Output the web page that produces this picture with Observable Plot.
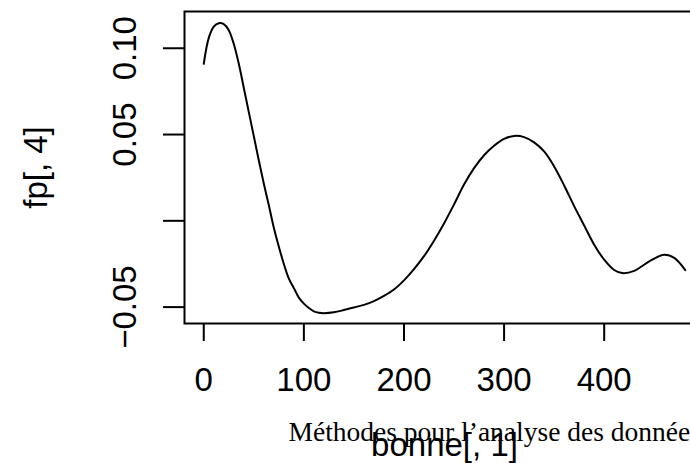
<!DOCTYPE html>
<html>
<head>
<meta charset="utf-8">
<script src="https://cdn.jsdelivr.net/npm/d3@7"></script>
<script src="https://cdn.jsdelivr.net/npm/@observablehq/plot@0.6"></script>
<style>
  html, body { margin: 0; padding: 0; background: #fff; overflow: hidden; }
  #chart { width: 690px; height: 463px; overflow: hidden; }
  #chart svg { max-width: none !important; }
  #chart svg [aria-label*="axis"] line,
  #chart svg [aria-label*="axis"] path { stroke-width: 2px; stroke: #000; }
</style>
</head>
<body>
<div id="chart"></div>
<script>
// bonne[, 1] values (x) and fp[, 4] values (y)
const bonne1 = [0, 5, 10, 15, 20, 25, 30, 35, 40, 45, 50, 55, 60, 65, 70, 75, 80, 85, 90, 95,
  100, 105, 110, 115, 120, 130, 140, 150, 160, 170, 180, 190, 200, 210, 220, 230, 240, 250,
  260, 270, 280, 290, 300, 310, 320, 330, 340, 350, 360, 370, 380, 390, 400, 410, 418, 430,
  445, 460, 470, 481];
const fp4 = [0.091, 0.106, 0.1125, 0.1145, 0.114, 0.1105, 0.1025, 0.091, 0.077, 0.063, 0.049,
  0.035, 0.0215, 0.009, -0.004, -0.015, -0.025, -0.0335, -0.039, -0.0445,
  -0.048, -0.0505, -0.0525, -0.0533, -0.0535, -0.053, -0.0517, -0.0502, -0.0487, -0.0465,
  -0.0435, -0.0398, -0.0345, -0.028, -0.0205, -0.0115, -0.0015, 0.0095,
  0.021, 0.0305, 0.038, 0.0435, 0.0475, 0.0492, 0.0485, 0.0455, 0.0402, 0.0315, 0.0205,
  0.0085, -0.0027, -0.0138, -0.0225, -0.0285, -0.0303, -0.029,
  -0.0235, -0.0197, -0.0215, -0.0286];

const xTicks = [0, 100, 200, 300, 400];
const yTicks = [-0.05, 0, 0.05, 0.10];
const yTickLabels = ["\u22120.05", "", "0.05", "0.10"];
const xLabel = "bonne[, 1]";
const yLabel = "fp[, 4]";
const caption = "Méthodes pour l\u2019analyse des données";

const data = bonne1.map((x, i) => ({x, y: fp4[i]}));
const yLab = yTicks.map((v, i) => ({v, t: yTickLabels[i]})).filter(d => d.t !== "");

const fs = 33;
const chart = Plot.plot({
  width: 710,
  height: 463,
  marginLeft: 184,
  marginRight: 6,
  marginTop: 11,
  marginBottom: 140,
  style: {fontFamily: "'Liberation Sans', Arial, Helvetica, sans-serif", fontSize: fs + "px", color: "#000", background: "#fff"},
  x: {domain: [-19.24, 500.2], ticks: xTicks, tickSize: 18, tickPadding: 26, tickFormat: d => String(d), label: null},
  y: {domain: [-0.0595, 0.1213], ticks: yTicks, tickSize: 21, tickFormat: () => "", label: null},
  marks: [
    Plot.frame({stroke: "#000", strokeWidth: 2}),
    Plot.line(data, {x: "x", y: "y", stroke: "#000", strokeWidth: 2, curve: "catmull-rom"}),
    Plot.text(yLab, {y: "v", text: "t", frameAnchor: "left", dx: -49, rotate: -90,
      textAnchor: "middle", lineAnchor: "bottom", fontSize: fs, fill: "#000"}),
    Plot.text([yLabel], {text: d => d, frameAnchor: "left", dx: -138, rotate: -90,
      textAnchor: "middle", lineAnchor: "bottom", fontSize: fs, fill: "#000"}),
    Plot.text([caption], {text: d => d, frameAnchor: "bottom-left", dx: 104, dy: 117,
      textAnchor: "start", lineAnchor: "bottom", fontSize: 27.5, fill: "#000",
      fontFamily: "'Liberation Serif', 'Times New Roman', Times, serif"}),
    Plot.text([xLabel], {text: d => d, frameAnchor: "bottom", dy: 132,
      textAnchor: "middle", lineAnchor: "bottom", fontSize: fs, fill: "#000"})
  ]
});
document.getElementById("chart").appendChild(chart);
</script>
</body>
</html>
